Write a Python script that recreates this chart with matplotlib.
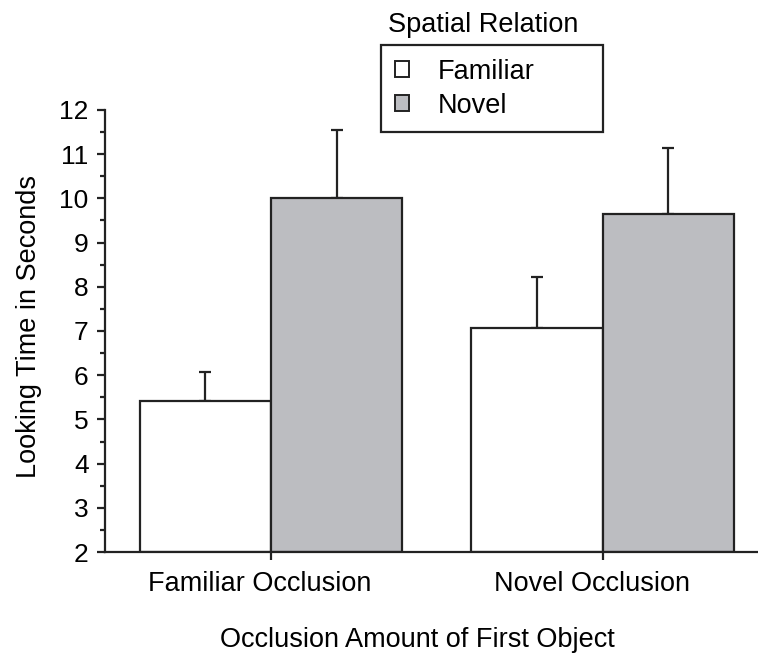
import matplotlib
matplotlib.use("Agg")
import matplotlib.pyplot as plt
import matplotlib.transforms as mtrans
import numpy as np
from matplotlib.patches import Patch

plt.rcParams['font.family'] = ['Liberation Sans', 'DejaVu Sans']

groups = ["Familiar Occlusion", "Novel Occlusion"]
series = ["Familiar", "Novel"]
familiar_vals = [5.42, 7.06]
novel_vals = [10.0, 9.64]
familiar_err = [0.66, 1.16]
novel_err = [1.55, 1.51]
colors = ["white", "#bcbdc1"]

FS = 19.5
INK = "#222222"
fig = plt.figure(figsize=(7.58, 6.56), dpi=100)
ax = fig.add_axes([105/758, 1-552/656, (758-105)/758, (552-110)/656])

x = np.arange(len(groups))
w = 0.396
lw = 1.6
ax.bar(x - w/2, [v - 2 for v in familiar_vals], w, bottom=2, color=colors[0],
       edgecolor=INK, linewidth=lw, zorder=2)
ax.bar(x + w/2, [v - 2 for v in novel_vals], w, bottom=2, color=colors[1],
       edgecolor=INK, linewidth=lw, zorder=2)
ax.errorbar(x - w/2, familiar_vals, yerr=[np.zeros(2), familiar_err], fmt='none',
            ecolor=INK, elinewidth=1.6, capsize=4, capthick=1.6, zorder=1)
ax.errorbar(x + w/2, novel_vals, yerr=[np.zeros(2), novel_err], fmt='none',
            ecolor=INK, elinewidth=1.6, capsize=4, capthick=1.6, zorder=1)

ax.set_ylim(2, 12)
ax.set_xlim(-0.5, 1.468)
ax.set_yticks(range(2, 13))
ax.set_yticks(np.arange(2.5, 12, 1), minor=True)
ax.set_xticks(x)
ax.set_xticklabels(groups, fontsize=FS)
ax.tick_params(axis='y', which='major', length=5.8, width=1.6, labelsize=19, pad=6, color=INK)
ax.tick_params(axis='y', which='minor', length=3.6, width=1.6, color=INK)
ax.tick_params(axis='x', which='major', length=6, width=1.6, pad=8, color=INK)
for s in ['top', 'right']:
    ax.spines[s].set_visible(False)
for s in ['left', 'bottom']:
    ax.spines[s].set_linewidth(1.6)
    ax.spines[s].set_color(INK)

shift = mtrans.ScaledTranslation(-11/100, 0, fig.dpi_scale_trans)
for lab in ax.get_xticklabels():
    lab.set_transform(lab.get_transform() + shift)

fig.text(29/758, 1-326.5/656, "Looking Time in Seconds", fontsize=FS,
         rotation=90, ha='center', va='center')
fig.text(417/758, 1-647/656, "Occlusion Amount of First Object", fontsize=FS,
         ha='center', va='baseline')

handles = [Patch(facecolor=c, edgecolor=INK, linewidth=1.4) for c in colors]
leg = ax.legend(handles, series, loc='upper left',
                bbox_to_anchor=(276/653, (552-130)/442, (603-381)/653, (130-45)/442),
                mode='expand',
                fontsize=FS, frameon=True, fancybox=False, framealpha=1,
                edgecolor=INK, handlelength=0.55, handleheight=0.55,
                handletextpad=1.05, labelspacing=0.3, borderpad=0.5,
                borderaxespad=0)
leg.get_frame().set_linewidth(1.6)
fig.text(388/758, 1-31.5/656, "Spatial Relation", fontsize=FS, ha='left', va='baseline')

fig.savefig("out.png", dpi=100)
